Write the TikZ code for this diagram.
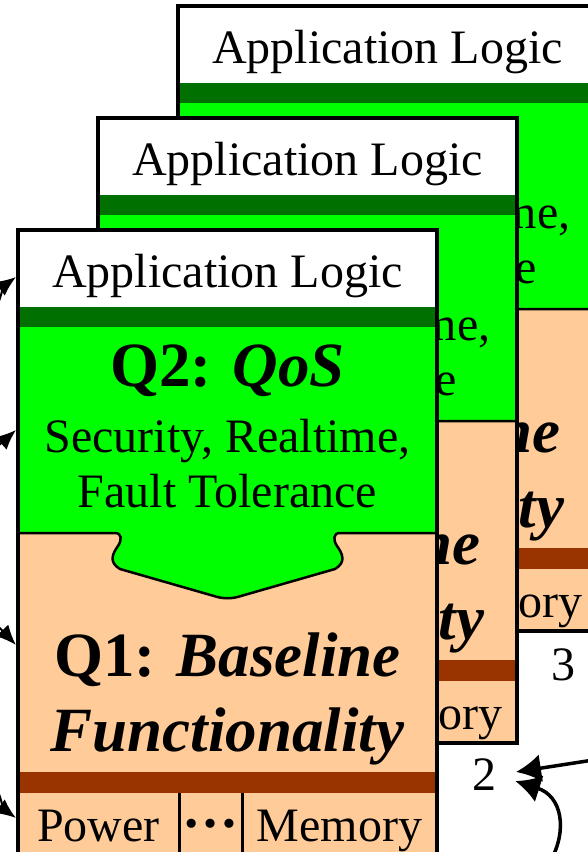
\documentclass[tikz,border=0pt]{standalone}
\usepackage{fontspec}
\setmainfont{Liberation Serif}
\usetikzlibrary{arrows.meta}

\definecolor{qosgreen}{RGB}{0,255,0}
\definecolor{bargreen}{RGB}{0,112,0}
\definecolor{basepeach}{RGB}{255,204,153}
\definecolor{barrust}{RGB}{153,51,0}

\begin{document}
\begin{tikzpicture}[
    x=1pt, y=-1pt,
    card border/.style={draw=black, line width=3.5pt},
    tab line/.style={draw=black, line width=2.5pt},
    divider/.style={line width=3pt},
    plain text/.style={font=\fontsize{48}{55}\selectfont, anchor=base, inner sep=0pt},
    big text/.style={font=\fontsize{63}{72}\selectfont\bfseries, anchor=base, inner sep=0pt},
    side arrow/.style={-{Latex[length=20pt, width=17pt]}, line width=2pt},
    loop arrow/.style={-{Latex[length=25pt, width=28pt]}, line width=3.5pt}
]

    % === Parameters ===
    \def\W{419} % card width
    \def\H{625} % card height

    \useasboundingbox (0,0) rectangle (588,852);
    \clip (0,0) rectangle (588,852);

    % === Cards, back to front ===
    \foreach \card/\dx/\dy in {3/160/-224, 2/80/-112, 1/0/0} {
      \begin{scope}[shift={(18+\dx,230+\dy)}]
        % baseline layer
        \fill[basepeach] (0,303) rectangle (\W,\H);
        % qos layer, with the tab that sits in the baseline layer
        \filldraw[fill=qosgreen, tab line] (0,95) -- (0,303) -- (97,303)
            .. controls (104,303) and (104,310) .. (100,316)
            .. controls (95,323) and (90,332) .. (102,339) -- (196,366)
            .. controls (205,369) and (214,369) .. (223,366) -- (317,339)
            .. controls (329,332) and (324,323) .. (319,316)
            .. controls (315,310) and (315,303) .. (322,303) -- (\W,303) -- (\W,95) -- cycle;
        % application layer and the two bars
        \fill[white] (0,0) rectangle (\W,77);
        \fill[bargreen] (0,77) rectangle (\W,97);
        \fill[barrust] (0,542) rectangle (\W,563);

        \node[plain text] (app\card) at (209.5,57) {Application Logic};
        \node[big text] (qos\card) at (209.5,156) {Q2: \textit{QoS}};
        \node[plain text] (sec\card) at (209.5,222) {Security, Realtime,};
        \node[plain text] (ft\card) at (209.5,277) {Fault Tolerance};
        \node[big text] (base\card) at (209.5,446) {Q1: \textit{Baseline}};
        \node[big text] (func\card) at (209.5,521) {\textit{Functionality}};

        % resource row
        \draw[divider] (161,563) -- (161,\H);
        \draw[divider] (224,563) -- (224,\H);
        \node[plain text] (pow\card) at (80.5,611) {Power};
        \node[plain text, font=\fontsize{56}{60}\selectfont] (dots\card) at (192.5,611) {\textbf{\raisebox{14pt}{…}}};
        \node[plain text] (mem\card) at (321.5,611) {Memory};

        \draw[card border] (0,0) rectangle (\W,\H);
      \end{scope}
    }

    % === Card numbers ===
    \node[plain text, anchor=center] (lbl3) at (563,665) {3};
    \node[plain text, anchor=center] (lbl2) at (484,775) {2};

    % === Arrows on the left edge ===
    \coordinate (out1) at (-12,330);
    \coordinate (in1) at (16,277);
    \coordinate (out2) at (-22,458);
    \coordinate (in2) at (16,430);
    \coordinate (out3) at (-22,612);
    \coordinate (in3) at (16,645);
    \coordinate (out4) at (-12,766);
    \coordinate (in4) at (16,818);
    \draw[side arrow] (out1) .. controls (0,300) and (5,285) .. (in1);
    \draw[side arrow] (out2) .. controls (-2,446) .. (in2);
    \draw[side arrow] (out3) .. controls (-2,626) .. (in3);
    \draw[side arrow] (out4) .. controls (0,795) and (5,810) .. (in4);

    % === Arrows into card 2 ===
    \coordinate (from2a) at (600,759);
    \coordinate (from2b) at (550,862);
    \draw[loop arrow, shorten >=20pt] (from2a) -- (lbl2.east);
    \draw[loop arrow, shorten >=20pt] (from2b) .. controls (568,830) and (562,796) .. (lbl2.east);

\end{tikzpicture}
\end{document}
